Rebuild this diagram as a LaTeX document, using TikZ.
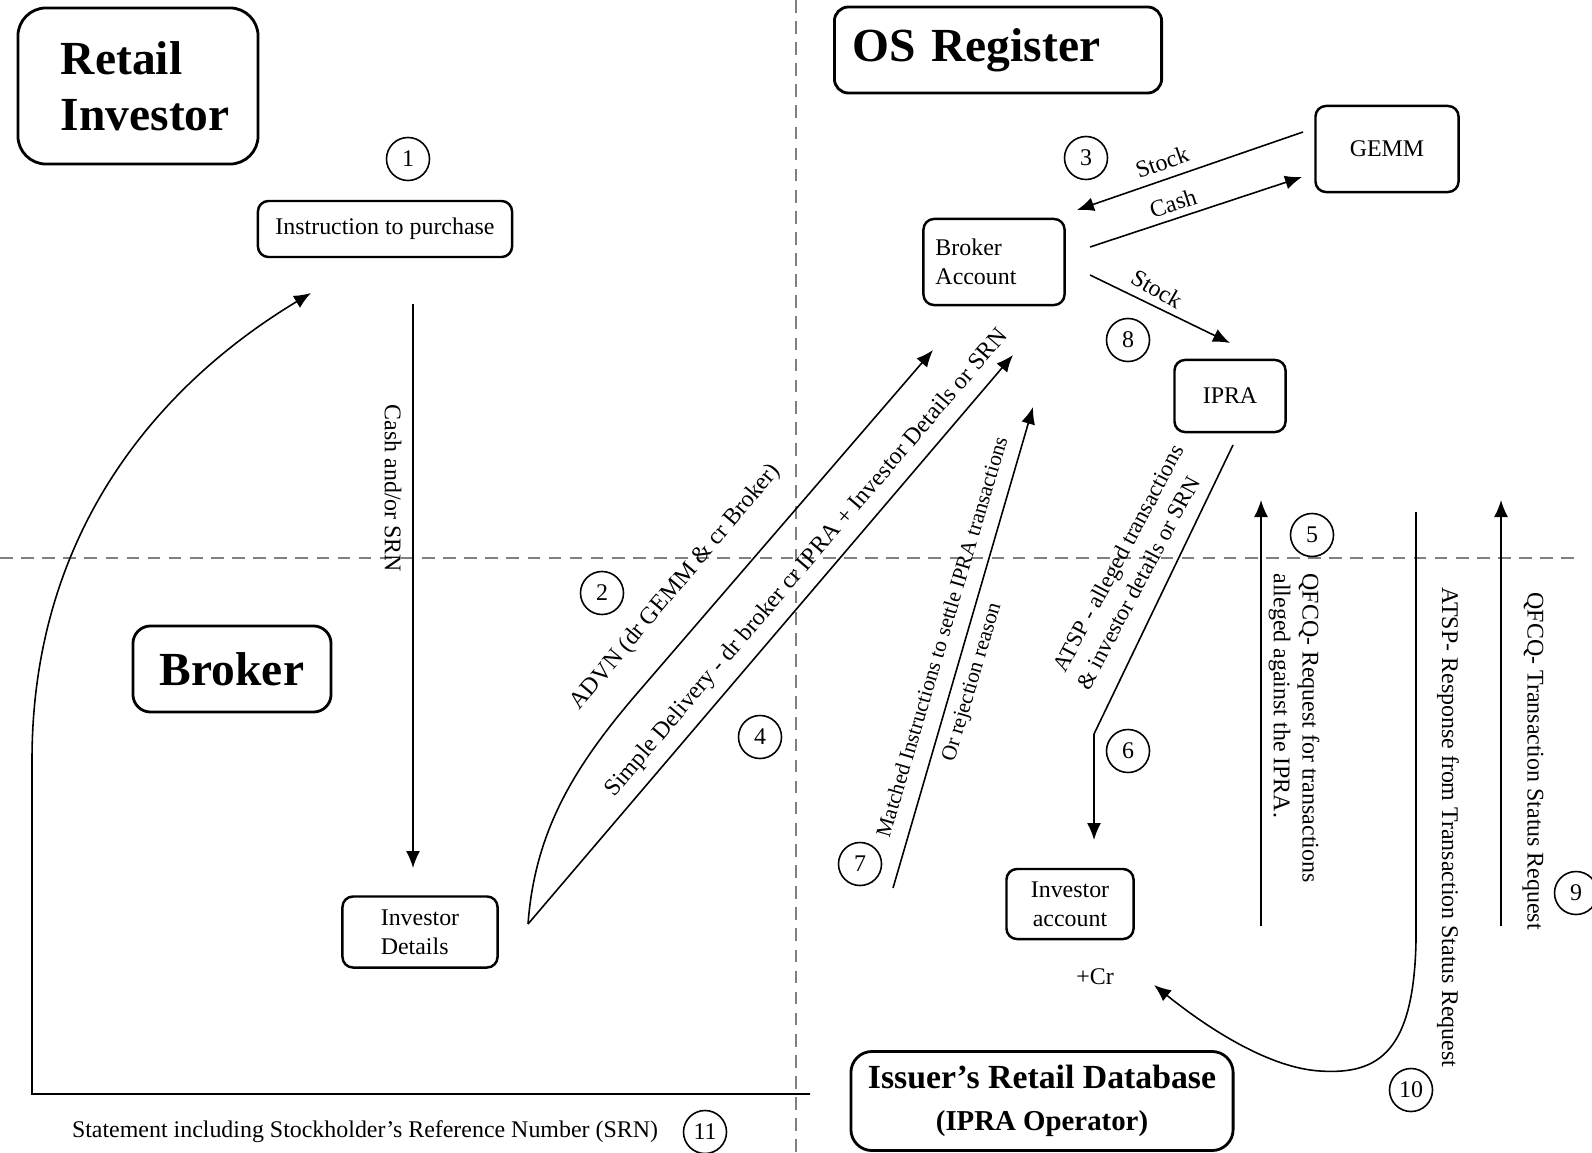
\documentclass[tikz,border=0pt]{standalone}
\usepackage{fontspec}
\setmainfont{Liberation Serif}
\usetikzlibrary{arrows.meta,positioning}
\newcommand{\lblfont}{\fontsize{6.8}{8.2}\selectfont}
\newcommand{\hdrfont}{\bfseries\fontsize{13.5}{16}\selectfont}

\begin{document}
\begin{tikzpicture}[x=0.01cm, y=-0.01cm,
     >={Latex[length=1.7mm,width=1.4mm]},
     box/.style = {draw, rectangle, rounded corners=3pt, line width=0.7pt, align=center, font=\lblfont, inner sep=2pt},
     head/.style = {draw, rectangle, line width=0.8pt, font=\hdrfont, inner sep=2pt},
     num/.style = {draw, circle, line width=0.45pt, minimum size=0.43cm, inner sep=0pt, font=\lblfont},
     flow/.style = {draw, ->, line width=0.45pt},
     lbl/.style = {font=\lblfont, inner sep=0pt},
     quad/.style = {draw=gray, line width=0.45pt, dash pattern=on 3.6pt off 2.4pt}
    ]
    \useasboundingbox (0,0) rectangle (1592,1152);

    \draw[quad] (796,0) -- (796,1152);
    \draw[quad] (0,558) -- (1578,558);

    \node [head, rounded corners=8pt, minimum width=2.4cm, minimum height=1.56cm, text width=1.54cm, inner xsep=0.43cm, align=left] (retail) at (138,86) {Retail\\Investor};
    \node [head, rounded corners=4pt, minimum width=3.27cm, minimum height=0.86cm, text width=2.91cm, inner xsep=0.18cm, align=left] (osreg) at (998,50) {OS Register};
    \node [head, rounded corners=5pt, minimum width=1.98cm, minimum height=0.86cm] (broker) at (232,669) {Broker};
    \node [head, rounded corners=6pt, minimum width=3.82cm, minimum height=0.99cm, align=center, font=\bfseries\fontsize{9.6}{11.5}\selectfont] (issuer) at (1042,1101) {Issuer's Retail Database\\[0.5pt]{\fontsize{8.2}{10}\selectfont (IPRA Operator)}};

    \node [box, minimum width=2.54cm, minimum height=0.56cm] (instr) at (385,229) {Instruction to purchase};
    \node [box, minimum width=1.55cm, minimum height=0.71cm, align=left] (invdet) at (420,932) {Investor\\Details};
    \node [box, minimum width=1.43cm, minimum height=0.86cm] (gemm) at (1387,149) {GEMM};
    \node [box, minimum width=1.41cm, minimum height=0.86cm, text width=1.17cm, inner xsep=0.12cm, align=left] (bacc) at (994,262) {Broker\\Account};
    \node [box, minimum width=1.11cm, minimum height=0.72cm] (ipra) at (1230,396) {IPRA};
    \node [box, minimum width=1.27cm, minimum height=0.70cm] (invacc) at (1070,904) {Investor\\account};
    \node [lbl] (cr) at (1095,977) {+Cr};

    \node [num] (n1) at (408,159) {1};
    \node [num] (n2) at (602,593) {2};
    \node [num] (n3) at (1086,158) {3};
    \node [num] (n4) at (760,737) {4};
    \node [num] (n5) at (1312,535) {5};
    \node [num] (n6) at (1128,751) {6};
    \node [num] (n7) at (860,864) {7};
    \node [num] (n8) at (1128,340) {8};
    \node [num] (n9) at (1576,893) {9};
    \node [num] (n10) at (1411,1090) {10};
    \node [num] (n11) at (705,1132) {11};

    \coordinate (stmtEnd) at (810,1094);
    \coordinate (stmtTip) at (311,293);
    \coordinate (cashTop) at (413,304);
    \coordinate (cashTip) at (413,868);
    \coordinate (delStart) at (528,924);
    \coordinate (advnTip) at (933,350);
    \coordinate (delTip) at (1013,355);
    \coordinate (stockFrom) at (1303,132);
    \coordinate (stockTip) at (1077,210);
    \coordinate (cashFrom) at (1090,247);
    \coordinate (cashTo) at (1302,177);
    \coordinate (stockOut) at (1090,275);
    \coordinate (stockIn) at (1230,343);
    \coordinate (matchFrom) at (893,888);
    \coordinate (matchTip) at (1033,407);
    \coordinate (atspFrom) at (1233,445);
    \coordinate (atspBend) at (1094,734);
    \coordinate (atspTip) at (1094,840);
    \coordinate (reqFrom) at (1261,926);
    \coordinate (reqTip) at (1261,500);
    \coordinate (statFrom) at (1501,926);
    \coordinate (statTip) at (1501,500);
    \coordinate (respFrom) at (1416,512);
    \coordinate (respTip) at (1154,985);

    \draw[flow] (stmtEnd) -- (32,1094) -- (32,760) .. controls (32,540) and (150,390) .. (stmtTip);
    \draw[flow] (cashTop) -- (cashTip);
    \draw[flow] (delStart) .. controls (535,830) and (575,765) .. (640,690) -- (advnTip);
    \draw[flow] (delStart) -- (delTip);
    \draw[flow] (stockFrom) -- (stockTip);
    \draw[flow] (cashFrom) -- (cashTo);
    \draw[flow] (stockOut) -- (stockIn);
    \draw[flow] (matchFrom) -- (matchTip);
    \draw[flow] (atspFrom) -- (atspBend) -- (atspTip);
    \draw[flow] (reqFrom) -- (reqTip);
    \draw[flow] (statFrom) -- (statTip);
    \draw[flow] (respFrom) -- (1416,940) .. controls (1414,1050) and (1380,1075) .. (1320,1071) .. controls (1270,1068) and (1210,1030) .. (respTip);

    \node [lbl] (stmt) at (365,1132) {Statement including Stockholder's Reference Number (SRN)};
    \node [lbl, rotate=-90, anchor=west] (cashSrn) at (393,404) {Cash and/or SRN};
    \node [lbl, rotate=50] (advnLbl) at (676,587) {ADVN (dr GEMM \& cr Broker)};
    \node [lbl, rotate=49.5] (delLbl) at (807,563) {Simple Delivery - dr broker cr IPRA + Investor Details or SRN};
    \node [lbl, rotate=19.5] (stockLbl) at (1162,162) {Stock};
    \node [lbl, rotate=18] (cashLbl) at (1173,203) {Cash};
    \node [lbl, rotate=-30] (stockOutLbl) at (1157,289) {Stock};
    \node [lbl, rotate=73.5, align=center, font=\fontsize{6.1}{11.5}\selectfont] (matchLbl) at (963,643) {Matched Instructions to settle IPRA transactions\\Or rejection reason\rule{20pt}{0pt}};
    \node [lbl, rotate=62, align=center, font=\fontsize{6.5}{8.3}\selectfont] (atspLbl) at (1131,565) {ATSP - alleged transactions\\\& investor details or SRN\rule{7pt}{0pt}};
    \node [lbl, rotate=-90, anchor=west, align=left] (reqLbl) at (1294,573) {QFCQ- Request for transactions\\alleged against the IPRA.};
    \node [lbl, rotate=-90, anchor=west] (respLbl) at (1448,587) {ATSP- Response from Transaction Status Request};
    \node [lbl, rotate=-90, anchor=west] (statLbl) at (1533,592) {QFCQ- Transaction Status Request};
\end{tikzpicture}
\end{document}
